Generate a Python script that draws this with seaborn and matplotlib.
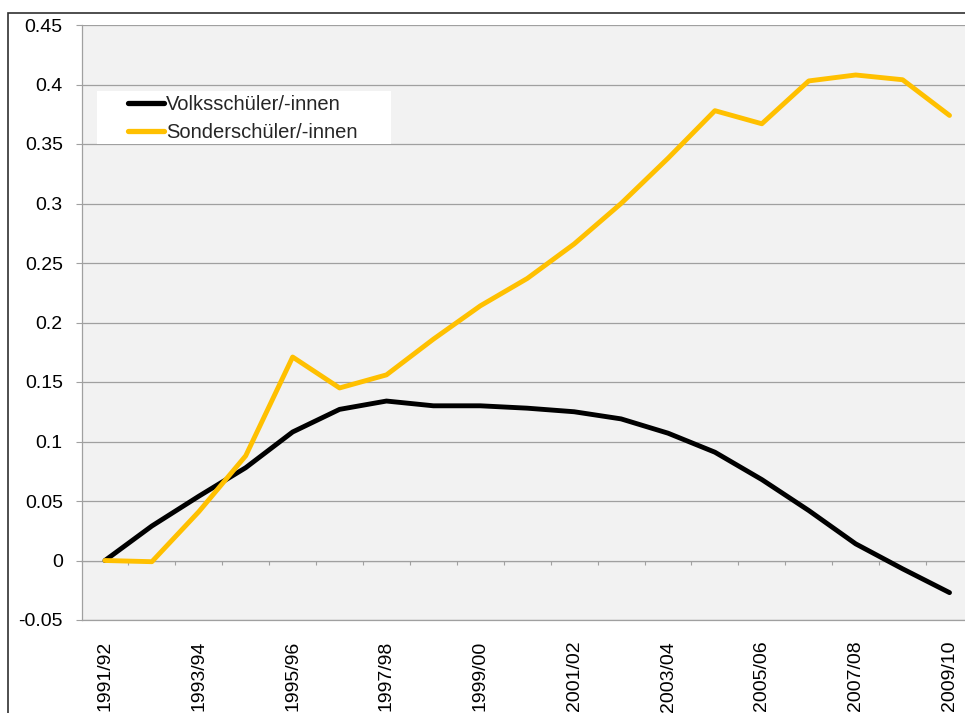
import numpy as np
import pandas as pd
import matplotlib
matplotlib.use("Agg")
import matplotlib.pyplot as plt
import seaborn as sns
from matplotlib.patches import Rectangle

# ---- data ----
years = ["1991/92", "1992/93", "1993/94", "1994/95", "1995/96", "1996/97", "1997/98",
         "1998/99", "1999/00", "2000/01", "2001/02", "2002/03", "2003/04", "2004/05",
         "2005/06", "2006/07", "2007/08", "2008/09", "2009/10"]
volks = [0.0, 0.029, 0.054, 0.078, 0.108, 0.127, 0.134, 0.130, 0.130, 0.128, 0.125,
         0.119, 0.107, 0.091, 0.068, 0.042, 0.014, -0.007, -0.027]
sonder = [0.0, -0.001, 0.041, 0.088, 0.171, 0.145, 0.156, 0.186, 0.214, 0.237, 0.266,
          0.300, 0.338, 0.378, 0.367, 0.403, 0.408, 0.404, 0.374]
series_names = ["Volksschüler/-innen", "Sonderschüler/-innen"]
series_colors = ["#000000", "#FFC000"]
y_ticks = [-0.05, 0.0, 0.05, 0.1, 0.15, 0.2, 0.25, 0.3, 0.35, 0.4, 0.45]
y_tick_labels = ["-0.05", "0", "0.05", "0.1", "0.15", "0.2", "0.25", "0.3", "0.35", "0.4", "0.45"]

df = pd.DataFrame({
    "pos": list(range(len(years))) * 2,
    "value": volks + sonder,
    "series": [series_names[0]] * len(years) + [series_names[1]] * len(years),
})

sns.set_theme(style="white")
plt.rcParams["font.family"] = ["Liberation Sans", "DejaVu Sans"]

W, H = 965, 713
fig = plt.figure(figsize=(W / 100, H / 100), dpi=100)
fig.patch.set_facecolor("white")

# outer chart-area frame (cut off at right and bottom)
fig.add_artist(Rectangle((8 / W, -0.2), 1.2, (H - 13) / H + 0.2, transform=fig.transFigure,
                         fill=False, edgecolor="#303030", linewidth=1.2))

ax_left, ax_top, ax_bottom = 81.5, 25, 620
n = len(years)
step = 46.92
ax = fig.add_axes([ax_left / W, (H - ax_bottom) / H, n * step / W, (ax_bottom - ax_top) / H])
ax.set_facecolor("#F2F2F2")

grid_c = "#A0A0A0"
sns.lineplot(data=df, x="pos", y="value", hue="series", palette=series_colors,
             hue_order=series_names, linewidth=3.5, ax=ax, legend=False, sort=False,
             zorder=3)
for ln in ax.lines:
    ln.set_solid_capstyle("round")
    ln.set_solid_joinstyle("round")

ax.set_xlim(-0.5, n - 0.5)
ax.set_ylim(y_ticks[0], y_ticks[-1])
ax.set_yticks(y_ticks)
ax.set_yticklabels(y_tick_labels)
ax.set_xticks(list(range(0, n, 2)))
ax.set_xticklabels(years[::2], rotation=90)
ax.set_xlabel("")
ax.set_ylabel("")
ax.yaxis.grid(True, color=grid_c, linewidth=0.9)
ax.set_axisbelow(True)
ax.tick_params(axis="y", which="major", direction="out", length=4.5, width=0.8,
               color=grid_c, labelsize=14, pad=9, labelcolor="black", left=True)
ax.tick_params(axis="x", which="major", length=0, labelsize=14, pad=15, labelcolor="black")
for s in ["top", "right"]:
    ax.spines[s].set_visible(False)
for s in ["left", "bottom"]:
    ax.spines[s].set_color(grid_c)
    ax.spines[s].set_linewidth(0.9)

# category-axis tick marks on the zero line
sec = ax.secondary_xaxis((0 - y_ticks[0]) / (y_ticks[-1] - y_ticks[0]))
sec.set_xticks(np.arange(n - 1) + 0.5)
sec.set_xticklabels([])
sec.tick_params(direction="out", length=3, width=0.8, color=grid_c)
sec.spines["bottom"].set_color(grid_c)
sec.spines["bottom"].set_linewidth(0.9)

# legend with white box
def ax_x(px):
    return (px - ax_left) / (n * step)

def ax_y(py):
    return (ax_bottom - py) / (ax_bottom - ax_top)

ax.add_patch(Rectangle((ax_x(97), ax_y(144)), ax_x(391) - ax_x(97), ax_y(91) - ax_y(144),
                       transform=ax.transAxes, facecolor="white", edgecolor="none", zorder=2.5))
handles = [plt.Line2D([], [], color=c, linewidth=3.8, solid_capstyle="round") for c in series_colors]
leg = ax.legend(handles, series_names, loc="upper left", bbox_to_anchor=(ax_x(128), ax_y(95)),
                frameon=False, borderpad=0, borderaxespad=0, handlelength=1.8,
                handletextpad=0.1, labelspacing=0.45, fontsize=14.5)
leg.set_zorder(4)

fig.savefig("out.png", dpi=100, facecolor="white")
